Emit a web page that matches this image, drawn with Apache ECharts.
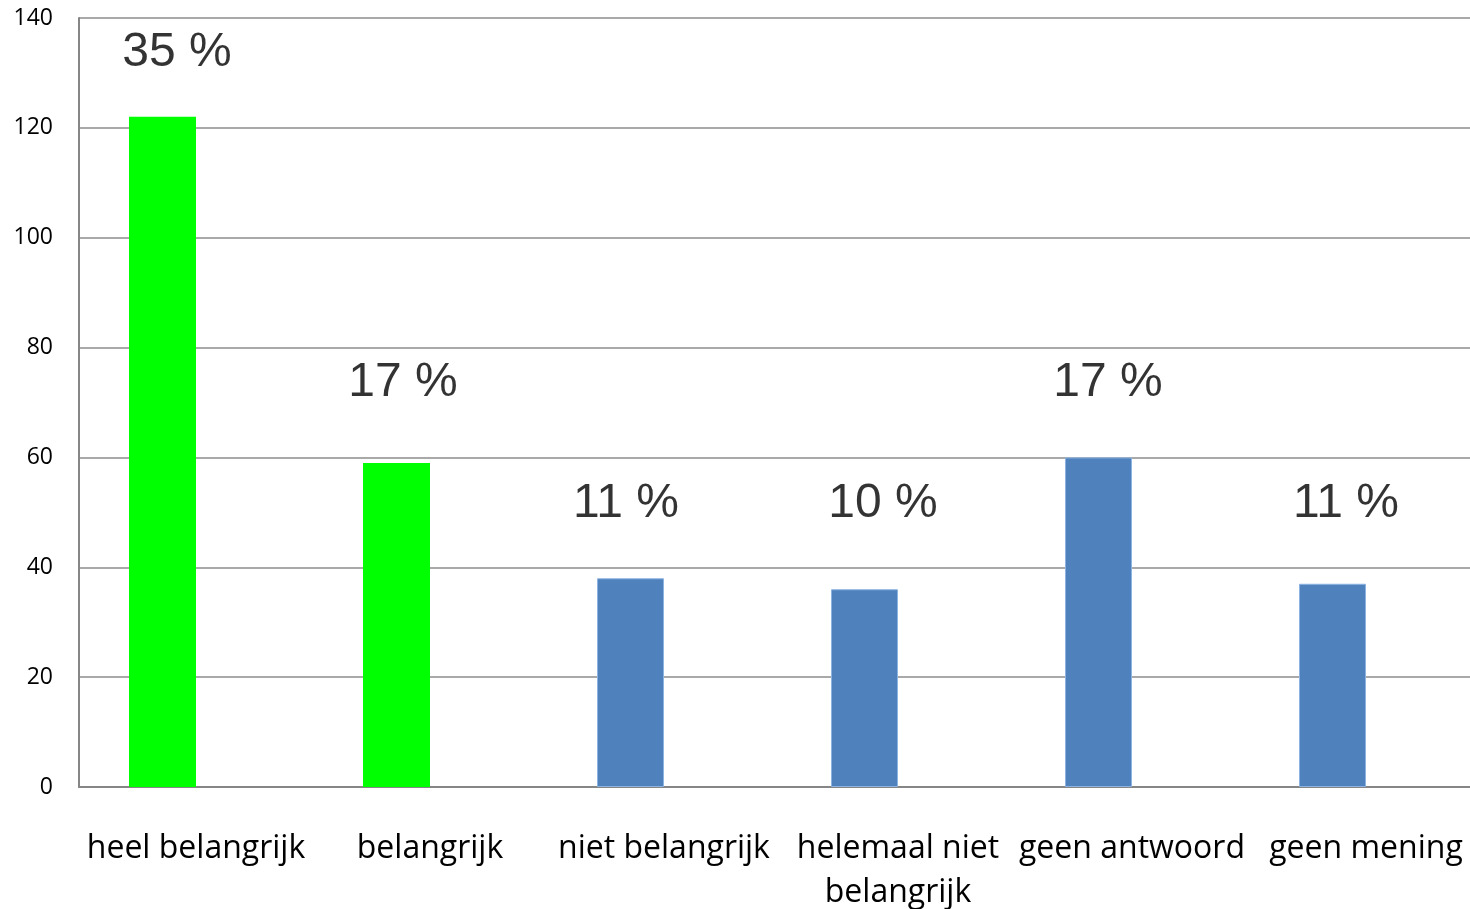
<!DOCTYPE html>
<html>
<head>
<meta charset="utf-8">
<script src="https://cdn.jsdelivr.net/npm/echarts@6/dist/echarts.min.js"></script>
<style>
  html, body { margin: 0; padding: 0; background: #fff; overflow: hidden; }
  #main { width: 1470px; height: 909px; }
</style>
</head>
<body>
<div id="main"></div>
<script>
// data
var categories = ['heel belangrijk', 'belangrijk', 'niet belangrijk', 'helemaal niet\nbelangrijk', 'geen antwoord', 'geen mening'];
var counts = [122, 59, 38, 36, 60, 37];
var percents = ['35 %', '17 %', '11 %', '10 %', '17 %', '11 %'];
var yTicks = [0, 20, 40, 60, 80, 100, 120, 140];

// layout of the percent text boxes (value height + pixel shift from category centre)
var labelLevels = [134, 74, 52, 52, 74, 52];
var labelShift = [-19, -27, -38, -15, -24, -20];
var barColors = ['#00ff00', '#00ff00', '#4f81bd', '#4f81bd', '#4f81bd', '#4f81bd'];

var chart = echarts.init(document.getElementById('main'));

var barData = counts.map(function (v, i) {
    var blue = barColors[i] !== '#00ff00';
    return {
        value: v,
        itemStyle: {
            color: barColors[i],
            borderColor: blue ? '#8db3e2' : barColors[i],
            borderWidth: blue ? 1 : 0
        }
    };
});

var labelData = labelLevels.map(function (v, i) {
    return {
        value: [i, v],
        label: { formatter: percents[i], offset: [labelShift[i], 2] }
    };
});

var option = {
    animation: false,
    // plot runs past the right edge of the picture (cropped like the original)
    grid: { left: 79, top: 18, width: 1404, height: 769, containLabel: false, outerBoundsMode: 'none' },
    xAxis: {
        type: 'category',
        data: categories,
        axisLine: { lineStyle: { color: '#868686', width: 2 } },
        axisTick: { show: false },
        axisLabel: {
            interval: 0,
            margin: 40,
            color: '#000',
            fontFamily: 'Open Sans',
            fontSize: 32,
            lineHeight: 44
        }
    },
    yAxis: {
        type: 'value',
        min: yTicks[0],
        max: yTicks[yTicks.length - 1],
        interval: 20,
        axisLine: { show: true, lineStyle: { color: '#868686', width: 2 } },
        axisTick: { show: false },
        axisLabel: {
            margin: 26,
            color: '#000',
            fontFamily: 'Open Sans',
            fontSize: 23
        },
        splitLine: { lineStyle: { color: '#8c8c8c', width: 1.5 } }
    },
    series: [
        {
            type: 'bar',
            data: barData,
            barWidth: 67,
            barGap: '0%'
        },
        {
            type: 'bar',
            data: counts.map(function () { return null; }),
            barWidth: 67,
            itemStyle: { color: 'transparent' }
        },
        {
            type: 'scatter',
            data: labelData,
            symbolSize: 0,
            silent: true,
            label: {
                show: true,
                position: 'inside',
                color: '#000',
                textBorderWidth: 0,
                fontFamily: 'Liberation Sans',
                fontSize: 48
            }
        }
    ]
};

chart.setOption(option);
</script>
</body>
</html>
